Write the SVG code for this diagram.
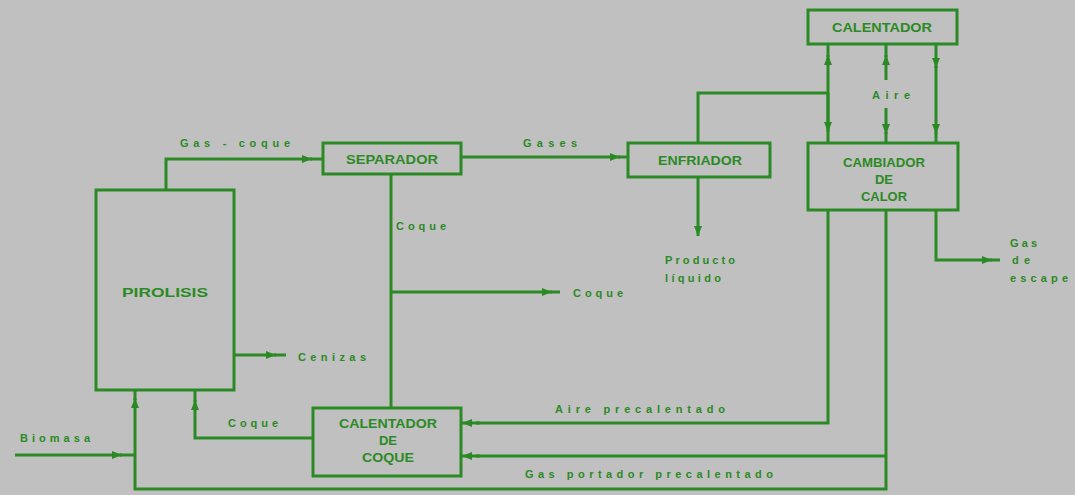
<svg xmlns="http://www.w3.org/2000/svg" width="1075" height="495" viewBox="0 0 1075 495">
  <style>
    .bg { fill: #c0c0c0; }
    .box { fill: none; stroke: #2b8a24; stroke-width: 3; }
    .ln { fill: none; stroke: #2b8a24; stroke-width: 3; stroke-linejoin: miter; }
    .t { font-family: "Liberation Sans", Arial, sans-serif; font-weight: bold; fill: #2b8a24; }
    .title { font-size: 13px; text-anchor: middle; }
    .lbl { font-size: 11px; }
  </style>
  <defs>
    <marker id="arr" viewBox="0 0 10 8" refX="10" refY="4" markerWidth="10" markerHeight="8" markerUnits="userSpaceOnUse" orient="auto">
      <path d="M0,0 L10,4 L0,8 Z" fill="#2b8a24"/>
    </marker>
  </defs>
  <rect class="bg" x="0" y="0" width="1075" height="495"/>

  <!-- flow lines -->
  <g id="connectors">
    <!-- pyrolysis gas + char to separator -->
    <path class="ln" d="M166,190 V159 H312" marker-end="url(#arr)"/>
    <path class="ln" d="M310,159 H323"/>
    <!-- gases to cooler -->
    <path class="ln" d="M461,157 H620" marker-end="url(#arr)"/>
    <path class="ln" d="M618,157 H628"/>
    <!-- cooler gas to heater / exchanger -->
    <path class="ln" d="M698,143 V93 H828"/>
    <!-- left riser: heater <-> exchanger -->
    <path class="ln" d="M828,143 V55" marker-end="url(#arr)"/>
    <path class="ln" d="M828,57 V44"/>
    <path class="ln" d="M828,93 V132" marker-end="url(#arr)"/>
    <!-- middle riser: air -->
    <path class="ln" d="M886,80 V55" marker-end="url(#arr)"/>
    <path class="ln" d="M886,57 V44"/>
    <path class="ln" d="M886,108 V134" marker-end="url(#arr)"/>
    <path class="ln" d="M886,132 V143"/>
    <!-- right riser: flue gas down -->
    <path class="ln" d="M936,44 V68" marker-end="url(#arr)"/>
    <path class="ln" d="M936,66 V134" marker-end="url(#arr)"/>
    <path class="ln" d="M936,132 V143"/>
    <!-- liquid product -->
    <path class="ln" d="M698,177 V236" marker-end="url(#arr)"/>
    <!-- exhaust gas -->
    <path class="ln" d="M936,210 V260 H992" marker-end="url(#arr)"/>
    <path class="ln" d="M990,260 H1000"/>
    <!-- char from separator -->
    <path class="ln" d="M391,174 V408"/>
    <path class="ln" d="M391,292 H552" marker-end="url(#arr)"/>
    <path class="ln" d="M550,292 H560"/>
    <!-- ashes -->
    <path class="ln" d="M234,355 H276" marker-end="url(#arr)"/>
    <path class="ln" d="M274,355 H286"/>
    <!-- preheated air to char heater -->
    <path class="ln" d="M828,210 V423 H476"/>
    <path class="ln" d="M480,423 H462" marker-end="url(#arr)"/>
    <!-- preheated carrier gas -->
    <path class="ln" d="M886,210 V489 H135 V398" marker-end="url(#arr)"/>
    <path class="ln" d="M135,400 V390"/>
    <path class="ln" d="M886,456 H476"/>
    <path class="ln" d="M480,456 H462" marker-end="url(#arr)"/>
    <!-- biomass feed -->
    <path class="ln" d="M15,455 H122" marker-end="url(#arr)"/>
    <path class="ln" d="M120,455 H135"/>
    <!-- hot char back to pyrolysis -->
    <path class="ln" d="M313,438 H195 V400" marker-end="url(#arr)"/>
    <path class="ln" d="M195,402 V390"/>
  </g>

  <g id="pirolisis">
    <rect class="box" x="96" y="190" width="138" height="200"/>
    <text class="t title" x="165" y="297" textLength="86" lengthAdjust="spacingAndGlyphs">PIROLISIS</text>
  </g>

  <g id="separador">
    <rect class="box" x="323" y="143" width="138" height="31"/>
    <text class="t title" x="392" y="164" textLength="92" lengthAdjust="spacingAndGlyphs">SEPARADOR</text>
  </g>

  <g id="enfriador">
    <rect class="box" x="628" y="143" width="142" height="34"/>
    <text class="t title" x="700" y="165" textLength="84" lengthAdjust="spacingAndGlyphs">ENFRIADOR</text>
  </g>

  <g id="calentador">
    <rect class="box" x="808" y="10" width="149" height="34"/>
    <text class="t title" x="882" y="32" textLength="100" lengthAdjust="spacingAndGlyphs">CALENTADOR</text>
  </g>

  <g id="cambiador">
    <rect class="box" x="808" y="143" width="150" height="67"/>
    <text class="t title" x="884" y="167" textLength="82" lengthAdjust="spacingAndGlyphs">CAMBIADOR</text>
    <text class="t title" x="884" y="184">DE</text>
    <text class="t title" x="884" y="201" textLength="46" lengthAdjust="spacingAndGlyphs">CALOR</text>
  </g>

  <g id="calentador-coque">
    <rect class="box" x="313" y="408" width="148" height="68"/>
    <text class="t title" x="388" y="428" textLength="98" lengthAdjust="spacingAndGlyphs">CALENTADOR</text>
    <text class="t title" x="388" y="445">DE</text>
    <text class="t title" x="388" y="462" textLength="52" lengthAdjust="spacingAndGlyphs">COQUE</text>
  </g>

  <!-- stream labels -->
  <g id="labels">
    <text class="t lbl" x="180" y="147" textLength="110" lengthAdjust="spacing">Gas - coque</text>
    <text class="t lbl" x="523" y="147" textLength="54" lengthAdjust="spacing">Gases</text>
    <text class="t lbl" x="872" y="99" textLength="38" lengthAdjust="spacing">Aire</text>
    <text class="t lbl" x="396" y="230" textLength="50" lengthAdjust="spacing">Coque</text>
    <text class="t lbl" x="573" y="297" textLength="50" lengthAdjust="spacing">Coque</text>
    <text class="t lbl" x="665" y="264" textLength="70" lengthAdjust="spacing">Producto</text>
    <text class="t lbl" x="665" y="282" textLength="56" lengthAdjust="spacing">líquido</text>
    <text class="t lbl" x="1010" y="247" textLength="27" lengthAdjust="spacing">Gas</text>
    <text class="t lbl" x="1012" y="264" textLength="18" lengthAdjust="spacing">de</text>
    <text class="t lbl" x="1010" y="282" textLength="58" lengthAdjust="spacing">escape</text>
    <text class="t lbl" x="298" y="361" textLength="68" lengthAdjust="spacing">Cenizas</text>
    <text class="t lbl" x="228" y="427" textLength="50" lengthAdjust="spacing">Coque</text>
    <text class="t lbl" x="20" y="442" textLength="70" lengthAdjust="spacing">Biomasa</text>
    <text class="t lbl" x="555" y="413" textLength="170" lengthAdjust="spacing">Aire precalentado</text>
    <text class="t lbl" x="525" y="478" textLength="248" lengthAdjust="spacing">Gas portador precalentado</text>
  </g>
</svg>
